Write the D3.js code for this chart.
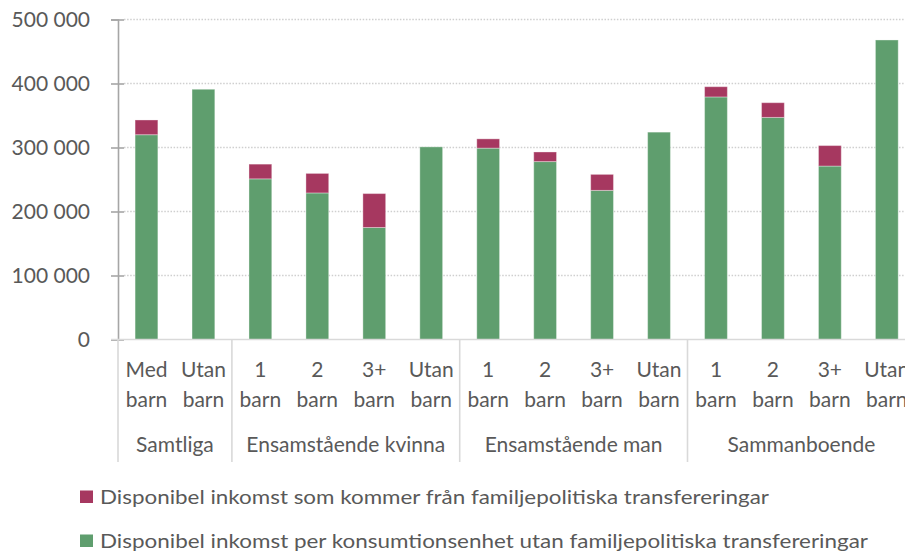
<!DOCTYPE html>
<html>
<head>
<meta charset="utf-8">
<script src="https://cdn.jsdelivr.net/npm/d3@7"></script>
<style>
  body { margin: 0; background: #fff; }
  text { font-family: Lato, "Open Sans", sans-serif; fill: #595959; }
</style>
</head>
<body>
<div id="chart"></div>
<script>
// Values
const groups = ["Samtliga", "Ensamstående kvinna", "Ensamstående man", "Sammanboende"];
const groupSizes = [2, 4, 4, 4];
const categories = ["Med barn", "Utan barn", "1 barn", "2 barn", "3+ barn", "Utan barn",
                    "1 barn", "2 barn", "3+ barn", "Utan barn", "1 barn", "2 barn", "3+ barn", "Utan barn"];
const baseIncome = [320000, 391000, 251000, 229000, 175000, 301000,
                    299000, 278000, 233000, 324000, 379000, 347000, 271000, 468000];
const transfers = [23000, 0, 23000, 30500, 53000, 0,
                   14500, 15000, 25000, 0, 16000, 23000, 32000, 0];
const yTicks = [0, 100000, 200000, 300000, 400000, 500000];
const seriesNames = ["Disponibel inkomst som kommer från familjepolitiska transfereringar",
                     "Disponibel inkomst per konsumtionsenhet utan familjepolitiska transfereringar"];

const width = 905, height = 554;
const colors = {base: "#5f9e6e", transfer: "#a63860"};

const svg = d3.select("#chart").append("svg")
    .attr("width", width)
    .attr("height", height);

// plot runs past the right edge like the original
const x0 = 118, step = 56.95;
const x = d3.scaleBand()
    .domain(d3.range(categories.length))
    .range([x0, x0 + step * categories.length])
    .paddingInner(0.6)
    .paddingOuter(0.3);

const y = d3.scaleLinear()
    .domain([0, 500000])
    .range([339.5, 19.5]);

const fmt = d3.formatLocale({decimal: ",", thousands: " ", grouping: [3], currency: ["", " kr"]}).format(",");

// gridlines
svg.append("g").selectAll("line")
    .data(yTicks.filter(d => d > 0))
    .join("line")
    .attr("x1", 124).attr("x2", width)
    .attr("y1", d => y(d)).attr("y2", d => y(d))
    .attr("stroke", "#cfcfcf")
    .attr("stroke-width", 1.4)
    .attr("stroke-dasharray", "1.5,1.6");

// stacked bars
const rows = categories.map((c, i) => ({i: i, base: baseIncome[i], transfer: transfers[i]}));
const stacked = d3.stack().keys(["base", "transfer"])(rows);

svg.append("g").selectAll("g")
    .data(stacked)
    .join("g")
    .attr("fill", d => colors[d.key])
    .selectAll("rect")
    .data(d => d.filter(p => p[1] > p[0]))
    .join("rect")
    .attr("x", d => x(d.data.i))
    .attr("width", x.bandwidth())
    .attr("y", d => y(d[1]))
    .attr("height", d => y(d[0]) - y(d[1]))
    .attr("stroke", "rgba(255,255,255,0.35)")
    .attr("stroke-width", 1);

// y axis
const yAxis = svg.append("g")
    .attr("transform", `translate(${x0},0)`)
    .call(d3.axisLeft(y).tickValues(yTicks).tickFormat(fmt).tickSize(7).tickPadding(21));
yAxis.select(".domain").attr("stroke", "#a6a6a6").attr("stroke-width", 1.6);
yAxis.selectAll(".tick line").attr("x1", 6).attr("stroke", "#a6a6a6").attr("stroke-width", 1.6);
yAxis.selectAll(".tick text")
    .style("font-family", "Lato, sans-serif")
    .attr("font-size", 21)
    .attr("fill", "#595959");

// category axis baseline and group dividers
svg.append("line")
    .attr("x1", 111).attr("x2", width)
    .attr("y1", y(0)).attr("y2", y(0))
    .attr("stroke", "#d9d9d9").attr("stroke-width", 1.6);

const bounds = [0];
groupSizes.forEach(n => bounds.push(bounds[bounds.length - 1] + n));
svg.append("g").selectAll("line")
    .data(bounds)
    .join("line")
    .attr("x1", d => x0 + d * step).attr("x2", d => x0 + d * step)
    .attr("y1", y(0)).attr("y2", 462)
    .attr("stroke", "#d9d9d9").attr("stroke-width", 1.6);

// category labels, two lines each
const catText = svg.append("g").selectAll("text")
    .data(categories)
    .join("text")
    .attr("text-anchor", "middle")
    .attr("font-size", 21);
catText.selectAll("tspan")
    .data((d, i) => d.split(" ").map(w => ({w: w, i: i})))
    .join("tspan")
    .attr("x", d => x(d.i) + x.bandwidth() / 2)
    .attr("y", (d, j) => 377 + j * 30)
    .text(d => d.w);

// group labels
svg.append("g").selectAll("text")
    .data(groups)
    .join("text")
    .attr("text-anchor", "middle")
    .attr("font-size", 21)
    .attr("x", (d, i) => x0 + step * (bounds[i] + bounds[i + 1]) / 2)
    .attr("y", 452)
    .text(d => d);

// legend
const legendColors = [colors.transfer, colors.base];
const legendY = [497, 541];
const legendLen = [669, 768];
const legend = svg.append("g").selectAll("g")
    .data(seriesNames)
    .join("g")
    .attr("transform", (d, i) => `translate(80,${legendY[i]})`);
legend.append("rect")
    .attr("x", 0).attr("y", -6.5)
    .attr("width", 13).attr("height", 12.5)
    .attr("fill", (d, i) => legendColors[i]);
legend.append("text")
    .attr("x", 20).attr("y", 6.5)
    .attr("font-size", 19)
    .attr("textLength", (d, i) => legendLen[i])
    .attr("lengthAdjust", "spacingAndGlyphs")
    .text(d => d);
</script>
</body>
</html>
